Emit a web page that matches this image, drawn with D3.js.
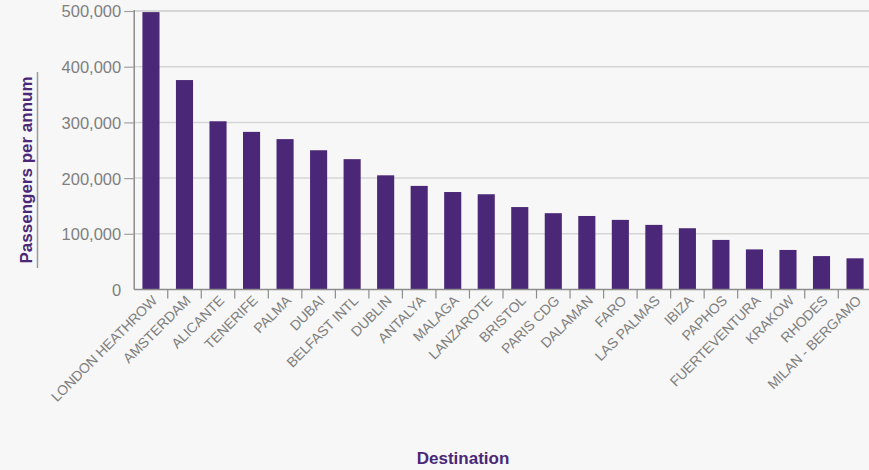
<!DOCTYPE html>
<html>
<head>
<meta charset="utf-8">
<script src="https://cdn.jsdelivr.net/npm/d3@7/dist/d3.min.js"></script>
<style>
  html, body { margin: 0; padding: 0; background: #f7f7f7; }
  svg { display: block; }
  text { font-family: "Liberation Sans", Arial, Helvetica, sans-serif; }
</style>
</head>
<body>
<svg id="chart" width="869" height="470"></svg>
<script>
// Destinations, ordered by passenger volume
const destinations = [
  "LONDON HEATHROW", "AMSTERDAM", "ALICANTE", "TENERIFE", "PALMA", "DUBAI",
  "BELFAST INTL", "DUBLIN", "ANTALYA", "MALAGA", "LANZAROTE", "BRISTOL",
  "PARIS CDG", "DALAMAN", "FARO", "LAS PALMAS", "IBIZA", "PAPHOS",
  "FUERTEVENTURA", "KRAKOW", "RHODES", "MILAN - BERGAMO"
];

// Passengers per annum for each destination
const passengers = [
  498000, 376000, 302000, 283000, 270000, 250000,
  234000, 205000, 186000, 175000, 171000, 148000,
  137000, 132000, 125000, 116000, 110000, 89000,
  72000, 71000, 60000, 56000
];

// Y axis tick values
const yTicks = [0, 100000, 200000, 300000, 400000, 500000];

const yTitle = "Passengers per annum";
const xTitle = "Destination";

const purple = "#4a2777";
const svg = d3.select("#chart");

const margin = { left: 134.2, right: 871.8, top: 11, bottom: 289.5 };

const x = d3.scaleBand()
  .domain(destinations)
  .range([margin.left, margin.right])
  .paddingInner(0.49)
  .paddingOuter(0.245);

const y = d3.scaleLinear()
  .domain([0, 500000])
  .range([margin.bottom, margin.top]);

// Horizontal gridlines
svg.append("g")
  .selectAll("line")
  .data(yTicks.filter(d => d > 0))
  .join("line")
  .attr("x1", margin.left)
  .attr("x2", 869)
  .attr("y1", d => y(d))
  .attr("y2", d => y(d))
  .attr("stroke", "#d6d6d6")
  .attr("stroke-width", d => d === 500000 ? 2 : 1.5);

// Bars
svg.append("g")
  .selectAll("rect")
  .data(destinations.map((d, i) => ({ name: d, value: passengers[i] })))
  .join("rect")
  .attr("x", d => x(d.name))
  .attr("width", x.bandwidth())
  .attr("y", d => y(d.value))
  .attr("height", d => y(0) - y(d.value))
  .attr("fill", purple);

// Y axis
const yAxis = svg.append("g")
  .attr("transform", `translate(${margin.left},0)`)
  .call(d3.axisLeft(y)
    .tickValues(yTicks)
    .tickFormat(d3.format(","))
    .tickSize(10)
    .tickPadding(3));
yAxis.select(".domain")
  .attr("d", `M0,${y(500000) - 1}V${y(0)}`)
  .attr("stroke", "#8c8c8c")
  .attr("stroke-width", 1.5);
yAxis.selectAll(".tick line").attr("stroke", "#a0a0a0").attr("stroke-width", 1.2);
yAxis.selectAll(".tick text")
  .attr("fill", "#7f7f7f")
  .style("font-size", "16.5px")
  .attr("dy", "0.36em");
yAxis.selectAll(".tick").filter(d => d === 0).select("line").remove();

// X axis baseline with ticks between bars
const step = x.step();
const boundaries = destinations.slice(0, -1).map(d => x(d) + x.bandwidth() / 2 + step / 2);
const xAxis = svg.append("g");
xAxis.append("line")
  .attr("x1", margin.left)
  .attr("x2", 869)
  .attr("y1", y(0))
  .attr("y2", y(0))
  .attr("stroke", "#8c8c8c")
  .attr("stroke-width", 1.5);
xAxis.selectAll(".xtick")
  .data(boundaries)
  .join("line")
  .attr("class", "xtick")
  .attr("x1", d => d)
  .attr("x2", d => d)
  .attr("y1", y(0))
  .attr("y2", y(0) + 9)
  .attr("stroke", "#8c8c8c")
  .attr("stroke-width", 1.2);

// Rotated destination labels
xAxis.selectAll(".xlabel")
  .data(destinations)
  .join("text")
  .attr("class", "xlabel")
  .attr("transform", d => `translate(${x(d) + x.bandwidth() / 2 + 7},${y(0) + 12}) rotate(-45)`)
  .attr("text-anchor", "end")
  .attr("fill", "#7f7f7f")
  .style("font-size", "14px")
  .style("letter-spacing", "-0.1px")
  .text(d => d);

// Axis titles
svg.append("text")
  .attr("transform", "translate(31.5,170) rotate(-90)")
  .attr("text-anchor", "middle")
  .attr("fill", purple)
  .style("font-size", "17px")
  .style("font-weight", "bold")
  .text(yTitle);

svg.append("line")
  .attr("x1", 37.5).attr("x2", 37.5)
  .attr("y1", 72).attr("y2", 268)
  .attr("stroke", "#9a9a9a")
  .attr("stroke-width", 1.5);

svg.append("text")
  .attr("x", 463)
  .attr("y", 464)
  .attr("text-anchor", "middle")
  .attr("fill", purple)
  .style("font-size", "17px")
  .style("font-weight", "bold")
  .text(xTitle);
</script>
</body>
</html>
